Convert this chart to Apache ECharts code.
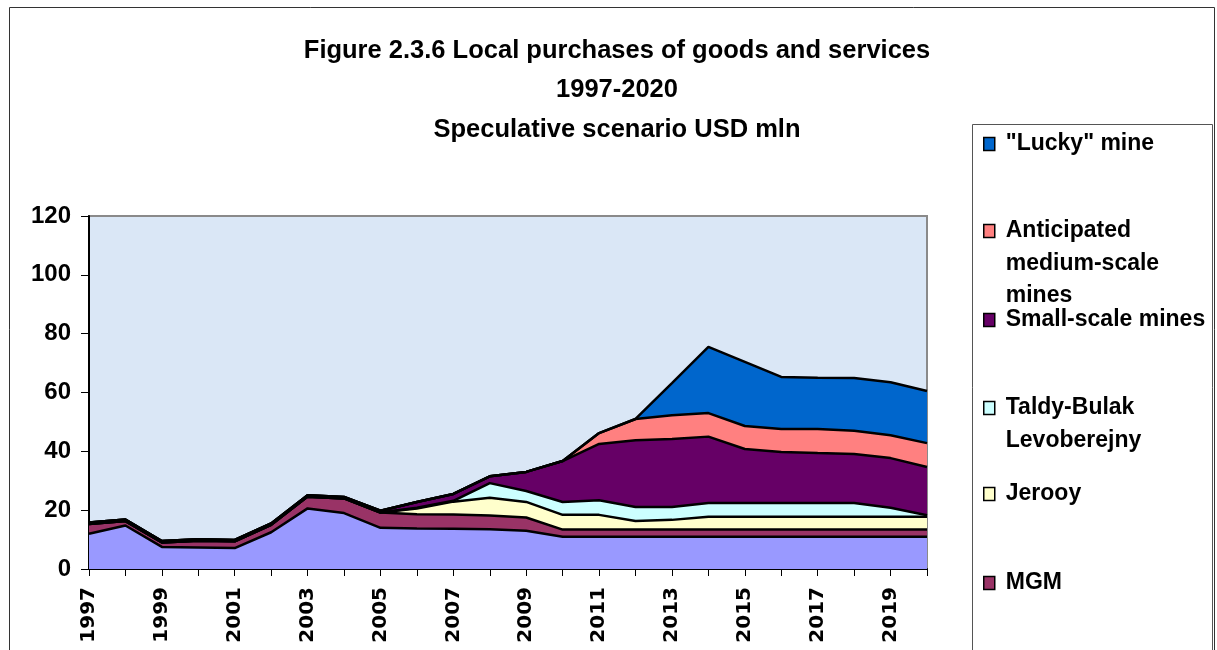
<!DOCTYPE html>
<html>
<head>
<meta charset="utf-8">
<script src="https://cdn.jsdelivr.net/npm/echarts@6/dist/echarts.min.js"></script>
<style>
  html, body { margin: 0; padding: 0; background: #fff; }
  #chart { width: 1217px; height: 650px; }
</style>
</head>
<body>
<div id="chart"></div>
<script>
// Local purchases of goods and services, speculative scenario, USD mln
const years = ['1997','1998','1999','2000','2001','2002','2003','2004','2005','2006','2007','2008',
               '2009','2010','2011','2012','2013','2014','2015','2016','2017','2018','2019','2020'];

const kumtor      = [12, 14.8, 7.5, 7.3, 7.1, 12.5, 20.6, 19, 14, 13.8, 13.7, 13.5, 13, 11, 11, 11, 11, 11, 11, 11, 11, 11, 11, 11];
const mgm         = [3.3, 1.5, 1.5, 2.3, 2.3, 2.5, 4, 5, 5.2, 4.8, 4.8, 4.7, 4.5, 2.4, 2.4, 2.4, 2.4, 2.4, 2.4, 2.4, 2.4, 2.4, 2.4, 2.4];
const jerooy      = [0, 0, 0, 0, 0, 0, 0, 0, 0, 2, 4.4, 6, 5.3, 5, 5, 2.9, 3.3, 4.4, 4.4, 4.4, 4.4, 4.4, 4.4, 4.4];
const taldyBulak  = [0, 0, 0, 0, 0, 0, 0, 0, 0, 0.2, 0.3, 5, 3.7, 4.4, 5, 4.8, 4.4, 4.6, 4.6, 4.6, 4.6, 4.6, 3, 0.5];
const smallScale  = [0.5, 0.5, 0.5, 0.5, 0.5, 0.5, 0.5, 0.5, 0.6, 2, 2.3, 2.3, 6.5, 13.9, 19.1, 22.7, 23.1, 22.6, 18.4, 17.4, 17, 16.7, 16.9, 16.4];
const mediumScale = [0, 0, 0, 0, 0, 0, 0, 0, 0, 0, 0, 0, 0, 0, 3.7, 7.2, 8.1, 8, 7.8, 7.8, 8.2, 7.9, 7.8, 8.1];
const lucky       = [0, 0, 0, 0, 0, 0, 0, 0, 0, 0, 0, 0, 0, 0, 0, 0, 10.9, 22.5, 21.8, 17.7, 17.4, 17.9, 18, 17.7];

const yTicks = { min: 0, max: 120, interval: 20 };

// stacking order, bottom to top
const layers = [
  { name: 'Kumtor', data: kumtor, color: '#9999FF' },
  { name: 'MGM', data: mgm, color: '#993366' },
  { name: 'Jerooy', data: jerooy, color: '#FFFFCC' },
  { name: 'Taldy-Bulak Levoberejny', data: taldyBulak, color: '#CCFFFF' },
  { name: 'Small-scale mines', data: smallScale, color: '#660066' },
  { name: 'Anticipated medium-scale mines', data: mediumScale, color: '#FF8080' },
  { name: '"Lucky" mine', data: lucky, color: '#0066CC' }
];

// legend entries, top to bottom, with their wrapped labels and first-line centre
const legendRows = [
  { name: '"Lucky" mine', label: '"Lucky" mine', y: 144 },
  { name: 'Anticipated medium-scale mines', label: 'Anticipated\nmedium-scale\nmines', y: 231 },
  { name: 'Small-scale mines', label: 'Small-scale mines', y: 320 },
  { name: 'Taldy-Bulak Levoberejny', label: 'Taldy-Bulak\nLevoberejny', y: 408 },
  { name: 'Jerooy', label: 'Jerooy', y: 494 },
  { name: 'MGM', label: 'MGM', y: 583 },
  { name: 'Kumtor', label: 'Kumtor', y: 671 }
];

const FONT = '"Liberation Sans", Arial, sans-serif';
const LH = 32.5;

const colorOf = {};
layers.forEach(l => { colorOf[l.name] = l.color; });

// the icon sits at the vertical middle of the label block, so blank lines are
// put in front of wrapped labels to line the icon up with their first line
const legends = legendRows.map(r => {
  const lines = r.label.split('\n').length;
  const padded = '\n'.repeat(lines - 1) + r.label;
  return {
    orient: 'vertical',
    left: 983,
    top: r.y - (2 * lines - 1) * LH / 2,
    padding: 0,
    itemGap: 0,
    itemWidth: 11,
    itemHeight: 13,
    icon: 'rect',
    selectedMode: false,
    data: [{ name: r.name, itemStyle: { color: colorOf[r.name], borderColor: '#000', borderWidth: 1.5 } }],
    formatter: () => padded,
    textStyle: {
      fontFamily: FONT,
      fontWeight: 'bold',
      fontSize: 23,
      lineHeight: LH,
      color: '#000',
      padding: [0, 0, 0, 6]
    }
  };
});

const chart = echarts.init(document.getElementById('chart'), null, { renderer: 'canvas' });

chart.setOption({
  animation: false,
  backgroundColor: '#ffffff',
  title: {
    text: 'Figure 2.3.6 Local purchases of goods and services\n1997-2020\nSpeculative scenario USD mln',
    left: 612,
    top: 26,
    textAlign: 'center',
    textStyle: {
      fontFamily: FONT,
      fontWeight: 'bold',
      fontSize: 25.5,
      lineHeight: 39.5,
      color: '#000'
    }
  },
  legend: legends,
  graphic: [
    {
      type: 'rect', silent: true, z: -1,
      shape: { x: 9.5, y: 7.5, width: 1205, height: 700 },
      style: { fill: 'none', stroke: '#333', lineWidth: 1 }
    },
    {
      type: 'rect', silent: true, z: -1,
      shape: { x: 972.5, y: 124.5, width: 240, height: 600 },
      style: { fill: '#fff', stroke: '#555', lineWidth: 1 }
    }
  ],
  grid: {
    left: 89, top: 216, width: 838, height: 353,
    show: true,
    backgroundColor: '#dae7f6',
    borderColor: '#8a8a8a',
    borderWidth: 2,
    containLabel: false
  },
  xAxis: {
    type: 'category',
    data: years,
    boundaryGap: false,
    axisLine: { lineStyle: { color: '#000', width: 2 } },
    axisTick: { show: true, interval: 0, length: 7, lineStyle: { color: '#000', width: 1 } },
    axisLabel: {
      interval: 1,
      rotate: 90,
      margin: 18,
      fontFamily: '"DejaVu Sans", sans-serif',
      fontWeight: 'bold',
      fontSize: 20,
      color: '#000'
    },
    splitLine: { show: false }
  },
  yAxis: {
    type: 'value',
    min: yTicks.min,
    max: yTicks.max,
    interval: yTicks.interval,
    axisLine: { show: true, lineStyle: { color: '#000', width: 2 } },
    axisTick: { show: true, length: 8, lineStyle: { color: '#000', width: 1 } },
    axisLabel: {
      margin: 18,
      fontFamily: FONT,
      fontWeight: 'bold',
      fontSize: 24,
      color: '#000'
    },
    splitLine: { show: false }
  },
  series: layers.map(l => ({
    name: l.name,
    type: 'line',
    stack: 'total',
    data: l.data,
    symbol: 'none',
    showSymbol: false,
    color: l.color,
    lineStyle: { color: '#000', width: 2.5 },
    areaStyle: { color: l.color, opacity: 1 },
    itemStyle: { color: l.color },
    emphasis: { disabled: true }
  }))
});
</script>
</body>
</html>
